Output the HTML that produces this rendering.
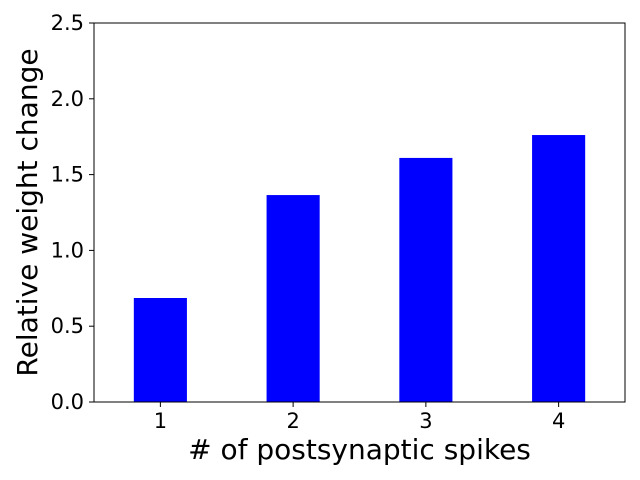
<!DOCTYPE html>
<html><head><meta charset="utf-8"><style>
body{margin:0;background:#fff;}
svg{display:block;font-family:"DejaVu Sans","Liberation Sans",sans-serif;}
</style></head><body>
<svg id="chart" width="640" height="480">
<g id="marks"></g>
<g id="axes"></g>
</svg>
<script>
const categories=[1,2,3,4];
const values=[0.686,1.365,1.61,1.761];
const yTicks=[0.0,0.5,1.0,1.5,2.0,2.5];
const yTickLabels=["0.0","0.5","1.0","1.5","2.0","2.5"];
const L=94,R=625,T=23,B=402;
const x=v=>L+(v-0.5)/4*(R-L);
const y=v=>B-v/2.5*(B-T);
const NS="http://www.w3.org/2000/svg";
const marks=document.getElementById('marks'),axes=document.getElementById('axes');
function mk(tag,attrs,parent,text){const e=document.createElementNS(NS,tag);for(const k in attrs)e.setAttribute(k,attrs[k]);if(text!==undefined)e.textContent=text;parent.appendChild(e);return e;}
categories.forEach((c,i)=>{
  const w=x(0.4)-x(0);
  const r=mk('rect',{x:x(c)-w/2,y:y(values[i]),width:w,height:y(0)-y(values[i]),fill:'#0000ff'},marks);
  
  
  const tk=mk('line',{x1:x(c),x2:x(c),y1:B,y2:B+5,stroke:'#000','stroke-width':1},axes);
  
  
  const t=mk('text',{x:x(c),y:B+26,'text-anchor':'middle','font-size':21},axes,String(c));
  
  
});
yTicks.forEach((v,i)=>{
  const tk=mk('line',{x1:L-5,x2:L,y1:y(v),y2:y(v),stroke:'#000','stroke-width':1},axes);
  
  
  const t=mk('text',{x:L-10,y:y(v)+7,'text-anchor':'end','font-size':21},axes,yTickLabels[i]);
  
  
});
const fr=mk('rect',{x:L,y:T,width:R-L,height:B-T,fill:'none',stroke:'#000','stroke-width':1},axes);


const xt=mk('text',{x:(L+R)/2,y:459,'text-anchor':'middle','font-size':28},axes,'# of postsynaptic spikes');


const yt=mk('text',{x:0,y:0,'text-anchor':'middle','font-size':28,transform:'translate(37,'+((T+B)/2)+') rotate(-90)'},axes,'Relative weight change');


</script>
</body></html>
